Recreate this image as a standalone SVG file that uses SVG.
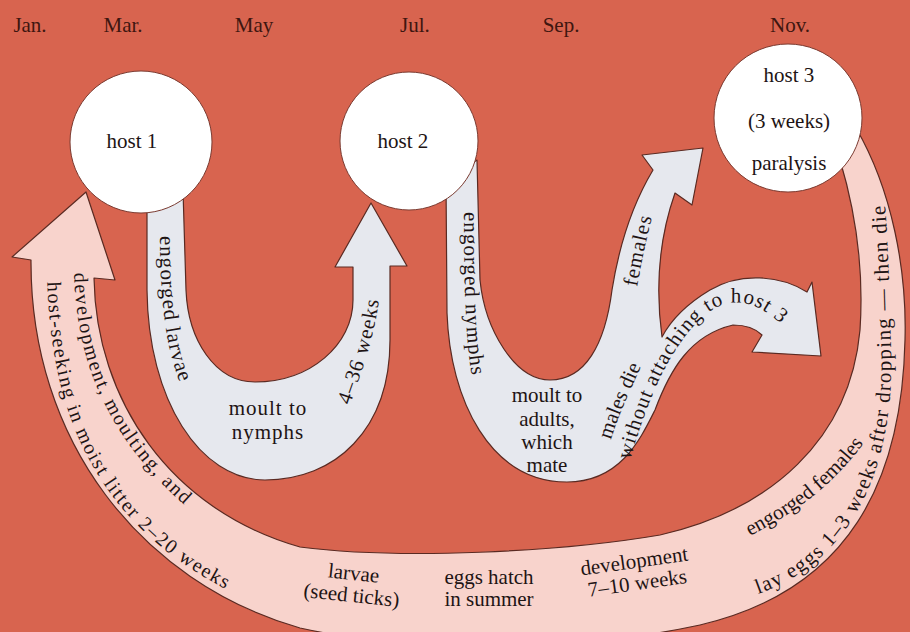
<svg xmlns="http://www.w3.org/2000/svg" width="910" height="632" viewBox="0 0 910 632">
<defs>
<style>
.bg{fill:#d8644f}
.blue{fill:#e6e8ee;stroke:#5a2a22;stroke-width:1.2;stroke-linejoin:round}
.pink{fill:#f8d3cc;stroke:#5a2a22;stroke-width:1.2;stroke-linejoin:round}
.host{fill:#ffffff;stroke:#7a3a30;stroke-width:1}
.t{font-family:"Liberation Serif","Times New Roman",serif;font-size:21px;fill:#1e1414}
.c{text-anchor:middle}
.m{font-family:"Liberation Serif","Times New Roman",serif;font-size:21px;fill:#3e1610;text-anchor:middle}
.ls{letter-spacing:1px}
.lw{letter-spacing:1.6px;font-size:20px}
</style>
<path id="pLarvae" d="M160,236 C160,320 170,370 192,408"/>
<path id="p436" d="M350,405 C362,370 378,330 381,278"/>
<path id="pNymphs" d="M464,212 C464,300 466,350 475,395"/>
<path id="pFemales" d="M637,287 C642,260 647,235 657,198"/>
<path id="pMales" d="M611,440 C620,410 635,380 654,338"/>
<path id="pWithout" d="M630,460 C645,410 665,350 705,315 C735,290 768,303 803,348"/>
<path id="pDev1" d="M74,266 C75,375 118,450 196,515"/>
<path id="pDev2" d="M47,262 C47,425 104,540 262,606"/>
<path id="pEng1" d="M750,536 C790,515 830,490 866,440"/>
<path id="pEng2" d="M758,594 C850,562 895,470 891,350 C889,280 888,230 882,170"/>
</defs>
<rect class="bg" x="0" y="0" width="910" height="632"/>

<g id="connectors">
<path id="arrow-seek" class="pink" d="M86,192 L115,280 L94,278 C96,400 170,510 300,547 C400,560 560,552 660,535 C770,510 850,440 860,330 C864,270 855,210 840,160 L856,128 C892,190 907,270 905,340 C902,480 850,590 700,625 C560,655 400,650 300,628 C140,582 30,440 31,260 L12,257 Z"/>
<path id="arrow-larvae" class="blue" d="M147,190 L147,290 C148,400 200,480 265,480 C335,480 390,430 390,340 L390,266 L407,266 L371,203 L335,267 L353,267 L353,300 C353,345 310,382 255,382 C215,382 188,340 186,290 L183,190 Z"/>
<path id="arrow-nymphs" class="blue" d="M446,180 L447,313 C450,400 490,482 567,482 C620,482 640,440 655,410 C670,370 690,335 733,325 C745,325 755,328 762,335 L752,352 L821,356 L812,282 L807,292 C780,275 740,272 710,290 C690,302 672,318 662,337 C657,300 655,250 675,193 L692,205 L703,148 L642,155 L653,170 C635,200 620,240 612,290 C605,345 585,380 550,380 C515,380 485,330 480,280 L477,160 Z"/>
</g>

<g id="host1"><circle class="host" cx="141" cy="142" r="71"/><text class="t c" x="132" y="148">host 1</text></g>
<g id="host2"><circle class="host" cx="409" cy="141" r="69"/><text class="t c" x="403" y="148">host 2</text></g>
<g id="host3"><circle class="host" cx="788" cy="118" r="74"/>
<text class="t c" x="789" y="82">host 3</text>
<text class="t c" x="789" y="128">(3 weeks)</text>
<text class="t c" x="789" y="170">paralysis</text></g>

<g id="months">
<text class="m" x="30" y="32">Jan.</text>
<text class="m" x="123" y="32">Mar.</text>
<text class="m" x="254" y="32">May</text>
<text class="m" x="415" y="32">Jul.</text>
<text class="m" x="561" y="32">Sep.</text>
<text class="m" x="790" y="32">Nov.</text>
</g>

<g id="labels">
<text class="t ls"><textPath href="#pLarvae">engorged larvae</textPath></text>
<text class="t ls"><textPath href="#p436">4–36 weeks</textPath></text>
<text class="t c ls" x="268" y="415">moult to</text>
<text class="t c ls" x="268" y="439">nymphs</text>
<text class="t ls"><textPath href="#pNymphs">engorged nymphs</textPath></text>
<text class="t c" x="547" y="402">moult to</text>
<text class="t c" x="547" y="426">adults,</text>
<text class="t c" x="547" y="449">which</text>
<text class="t c" x="547" y="472">mate</text>
<text class="t ls"><textPath href="#pFemales">females</textPath></text>
<text class="t"><textPath href="#pMales">males die</textPath></text>
<text class="t ls"><textPath href="#pWithout">without attaching to host 3</textPath></text>
<text class="t lw"><textPath href="#pDev1" startOffset="7">development, moulting, and</textPath></text>
<text class="t lw"><textPath href="#pDev2" startOffset="20">host-seeking in moist litter  2–20 weeks</textPath></text>
<text class="t c" transform="rotate(6 352 590)"><tspan x="352" y="580">larvae</tspan><tspan x="352" y="602">(seed ticks)</tspan></text>
<text class="t c"><tspan x="489" y="584">eggs hatch</tspan><tspan x="489" y="606">in summer</tspan></text>
<text class="t c" transform="rotate(-8 636 574)"><tspan x="636" y="568">development</tspan><tspan x="636" y="590">7–10 weeks</tspan></text>
<text class="t" font-size="20"><textPath href="#pEng1">engorged females</textPath></text>
<text class="t" letter-spacing="1.3"><textPath href="#pEng2">lay eggs 1–3 weeks after dropping — then die</textPath></text>
</g>
</svg>
